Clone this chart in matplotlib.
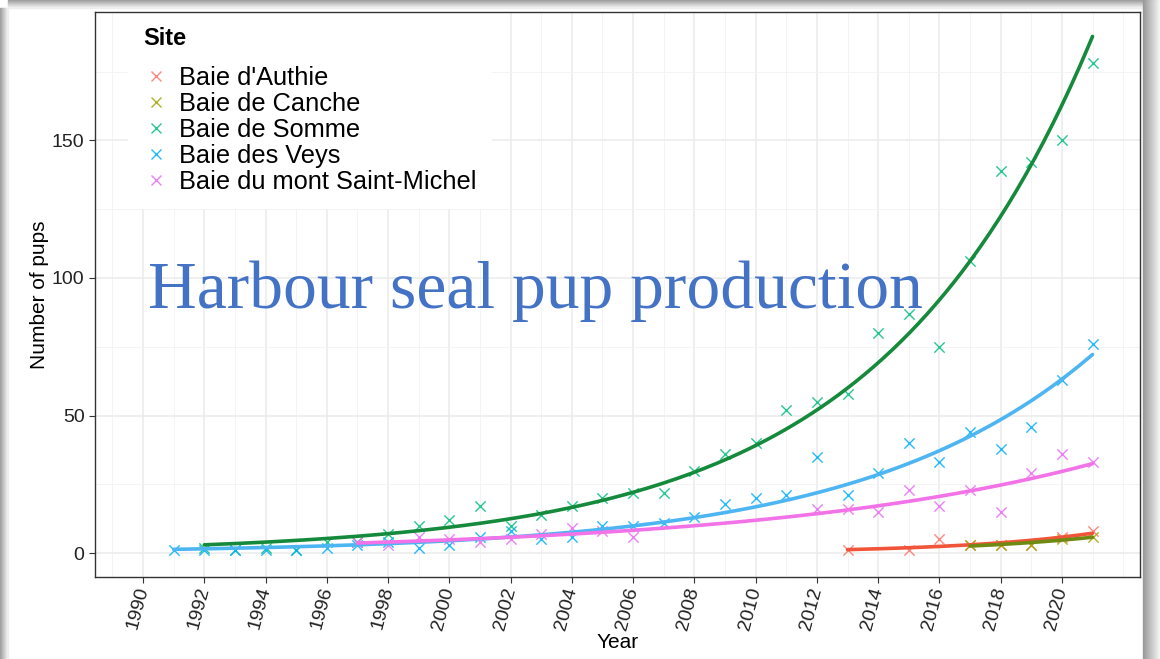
import numpy as np
import matplotlib
matplotlib.use("Agg")
import matplotlib.pyplot as plt
from matplotlib.lines import Line2D
from matplotlib.patches import Rectangle
from matplotlib.ticker import FixedLocator

plt.rcParams['font.family'] = ['Liberation Sans', 'DejaVu Sans']

# pup counts per site
sites = ["Baie d'Authie", "Baie de Canche", "Baie de Somme", "Baie des Veys", "Baie du mont Saint-Michel"]

authie_years = [2013, 2015, 2016, 2017, 2018, 2019, 2020, 2021]
authie_pups = [1, 1, 5, 3, 3, 3, 6, 8]

canche_years = [2017, 2018, 2019, 2020, 2021]
canche_pups = [3, 3, 3, 5, 6]

somme_years = list(range(1992, 2022))
somme_pups = [2, 1, 2, 1, 4, 4, 7, 10, 12, 17, 10, 14, 17, 20, 22, 22, 30, 36, 40, 52,
              55, 58, 80, 87, 75, 106, 139, 142, 150, 178]

veys_years = list(range(1991, 2022))
veys_pups = [1, 1, 1, 1, 1, 2, 3, 4, 2, 3, 6, 8, 5, 6, 10, 10, 11, 13, 18, 20,
             21, 35, 21, 29, 40, 33, 44, 38, 46, 63, 76]

msm_years = [1997, 1998, 1999, 2000, 2001, 2002, 2003, 2004, 2005, 2006,
             2012, 2013, 2014, 2015, 2016, 2017, 2018, 2019, 2020, 2021]
msm_pups = [4, 3, 6, 5, 4, 5, 7, 9, 8, 6, 16, 16, 15, 23, 17, 23, 15, 29, 36, 33]

point_colors = ['#F8766D', '#A3A500', '#00BF7D', '#00B0F6', '#E76BF3']
line_colors = ['#F0553A', '#6E8A12', '#168A3C', '#4DB5F2', '#F272E8']


def poisson_fit(x, y):
    # log-link glm fitted by iteratively reweighted least squares
    x = np.asarray(x, float) - 2000
    y = np.asarray(y, float)
    X = np.column_stack([np.ones_like(x), x])
    beta = np.array([np.log(y.mean()), 0.0])
    for _ in range(60):
        eta = X @ beta
        mu = np.exp(eta)
        z = eta + (y - mu) / mu
        beta = np.linalg.solve(X.T @ (mu[:, None] * X), X.T @ (mu * z))
    return beta


fig = plt.figure(figsize=(11.6, 6.59), dpi=100)
fig.patch.set_facecolor('white')

# grey shadow round the pasted picture
for i in range(8):
    g = 0.62 + i * 0.045
    fig.patches.append(Rectangle((i / 1160, 0), 1 / 1160, 1 - 8 / 659, transform=fig.transFigure,
                                 color=(g, g, g), zorder=-5))
    fig.patches.append(Rectangle((8 / 1160, 1 - (i + 1) / 659), 1 - 25 / 1160, 1 / 659,
                                 transform=fig.transFigure, color=(g, g, g), zorder=-5))
for i in range(17):
    g = 0.60 + i * 0.022
    fig.patches.append(Rectangle(((1143 + i) / 1160, 0), 1 / 1160, 1, transform=fig.transFigure,
                                 color=(g, g, g), zorder=-5))

ax = fig.add_axes([95 / 1160, 1 - 577 / 659, 1045 / 1160, 565 / 659])

data = [(authie_years, authie_pups), (canche_years, canche_pups), (somme_years, somme_pups),
        (veys_years, veys_pups), (msm_years, msm_pups)]

for (yrs, pups), pc in zip(data, point_colors):
    ax.scatter(yrs, pups, marker='x', s=55, linewidths=1.0, color=pc, alpha=0.85, zorder=3)

for k in [2, 3, 4, 0, 1]:
    yrs, pups = data[k]
    b = poisson_fit(yrs, pups)
    xs = np.linspace(min(yrs), max(yrs), 200)
    ax.plot(xs, np.exp(b[0] + b[1] * (xs - 2000)), color=line_colors[k], lw=2.6, zorder=4,
            solid_capstyle='round')

ax.set_xlim(1988.43, 2022.55)
ax.set_ylim(-8.7, 196.7)
ax.xaxis.set_major_locator(FixedLocator(list(range(1990, 2021, 2))))
ax.xaxis.set_minor_locator(FixedLocator(list(range(1989, 2022, 2)) + [2022]))
ax.yaxis.set_major_locator(FixedLocator([0, 50, 100, 150]))
ax.yaxis.set_minor_locator(FixedLocator([25, 75, 125, 175]))
ax.grid(which='major', color='#EBEBEB', lw=1.1, zorder=0)
ax.grid(which='minor', color='#F3F3F3', lw=0.6, zorder=0)
ax.set_axisbelow(True)
for s in ax.spines.values():
    s.set_color('#333333')
    s.set_linewidth(1.0)
ax.tick_params(which='minor', length=0)
ax.tick_params(which='major', length=4, color='#333333', labelsize=14, labelcolor='#222222')
for lab in ax.get_xticklabels():
    lab.set_rotation(75)
    lab.set_ha('right')
    lab.set_rotation_mode('anchor')
    lab.set_va('center')

ax.set_xlabel('Year', fontsize=15, labelpad=1)
ax.set_ylabel('Number of pups', fontsize=15, labelpad=2)

handles = [Line2D([], [], marker='x', ls='none', color=c, markersize=7, markeredgewidth=1.0, alpha=0.85)
           for c in point_colors]
leg = ax.legend(handles, sites, title='Site', loc='upper left', bbox_to_anchor=(33 / 1045, 1.0),
                fontsize=18.3, title_fontsize=17, frameon=True, fancybox=False, framealpha=1,
                borderaxespad=0, handlelength=1.0, handletextpad=0.4, labelspacing=0.08,
                borderpad=0.6)
leg.get_frame().set_edgecolor('none')
leg.get_title().set_fontweight('bold')
leg._legend_box.align = 'left'
leg._legend_box.sep = 11
leg.set_zorder(2)

fig.text(148 / 1160, 1 - 308 / 659, 'Harbour seal pup production', fontsize=48.6,
         family='Liberation Serif', color='#4472C4', va='baseline', ha='left')

fig.savefig('out.png', dpi=100)
